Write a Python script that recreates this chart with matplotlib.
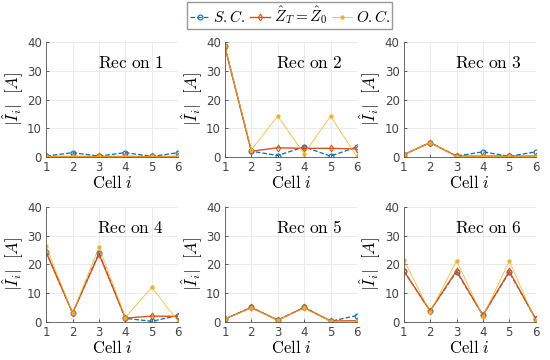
import matplotlib.pyplot as plt

plt.rcParams['mathtext.fontset'] = 'cm'

cells = [1, 2, 3, 4, 5, 6]
titles = ['Rec on 1', 'Rec on 2', 'Rec on 3', 'Rec on 4', 'Rec on 5', 'Rec on 6']

# short circuit
sc = [
    [0.3, 1.5, 0.3, 1.5, 0.2, 1.5],
    [38.5, 2.0, 0.5, 3.5, 0.3, 3.5],
    [0.8, 5.0, 0.3, 1.8, 0.2, 1.8],
    [24.3, 3.0, 24.0, 1.2, 0.2, 2.2],
    [1.0, 5.0, 0.6, 5.0, 0.2, 2.2],
    [17.8, 3.8, 17.5, 2.3, 17.3, 1.0],
]
# matched termination
zt = [
    [0.3, 0.3, 0.3, 0.3, 0.3, 0.3],
    [38.2, 2.0, 3.2, 3.0, 3.0, 2.8],
    [0.8, 5.0, 0.3, 0.3, 0.3, 0.3],
    [24.2, 3.1, 23.6, 1.3, 2.0, 1.9],
    [1.0, 5.0, 0.6, 5.0, 0.3, 0.4],
    [17.8, 3.8, 17.8, 2.3, 17.6, 1.0],
]
# open circuit
oc = [
    [0.2, 0.2, 0.2, 0.2, 0.2, 0.2],
    [38.5, 2.5, 14.2, 1.2, 14.2, 0.1],
    [0.8, 5.0, 0.2, 0.2, 0.2, 0.2],
    [26.3, 3.0, 26.1, 1.5, 12.0, 0.1],
    [1.0, 4.8, 0.6, 4.8, 0.2, 0.2],
    [21.7, 3.3, 21.3, 1.8, 21.2, 0.2],
]

blue = '#0072BD'
orange = '#D95319'
yellow = '#EDB120'

fig = plt.figure(figsize=(5.5, 3.6), dpi=100)

lefts = [0.084, 0.409, 0.734]
bottoms = [0.564, 0.106]
w, h = 0.24, 0.319

for k in range(6):
    ax = fig.add_axes([lefts[k % 3], bottoms[k // 3], w, h])
    l1, = ax.plot(cells, sc[k], '--o', color=blue, lw=0.9, ms=3.5, mfc='none', mew=0.8)
    l2, = ax.plot(cells, zt[k], '-d', color=orange, lw=1.0, ms=3.5, mfc='none', mew=0.8)
    l3, = ax.plot(cells, oc[k], '-o', color=yellow, lw=0.6, ms=2.2, alpha=0.85)
    ax.set_xlim(1, 6)
    ax.set_ylim(0, 40)
    ax.set_xticks(cells)
    ax.set_yticks([0, 10, 20, 30, 40])
    ax.grid(True, color='#e8e8e8', lw=0.6)
    ax.set_axisbelow(True)
    for s in ['top', 'right']:
        ax.spines[s].set_visible(False)
    for s in ['left', 'bottom']:
        ax.spines[s].set_color('#555555')
        ax.spines[s].set_linewidth(0.6)
    ax.tick_params(direction='in', length=2.5, width=0.6, labelsize=8.5,
                   colors='#444444', pad=3)
    ax.set_ylabel(r'$|\hat{I}_i|\ \ [A]$', fontsize=12, labelpad=1)
    ax.set_xlabel(r'$\mathrm{Cell}\ i$', fontsize=12, labelpad=0)
    ax.text(0.64, 0.82, r'$\mathrm{' + titles[k].replace(' ', r'\ ') + '}$',
            transform=ax.transAxes, ha='center', va='center', fontsize=12.5)

fig.legend([l1, l2, l3], [r'$S.C.$', r'$\hat{Z}_T=\hat{Z}_0$', r'$O.C.$'],
           loc='upper center', bbox_to_anchor=(0.527, 0.998), ncol=3, fontsize=11,
           handlelength=1.3, handletextpad=0.25, columnspacing=0.3,
           borderpad=0.15, borderaxespad=0.1, fancybox=False,
           edgecolor='#999999', framealpha=1)

fig.savefig('out.png', dpi=100)
